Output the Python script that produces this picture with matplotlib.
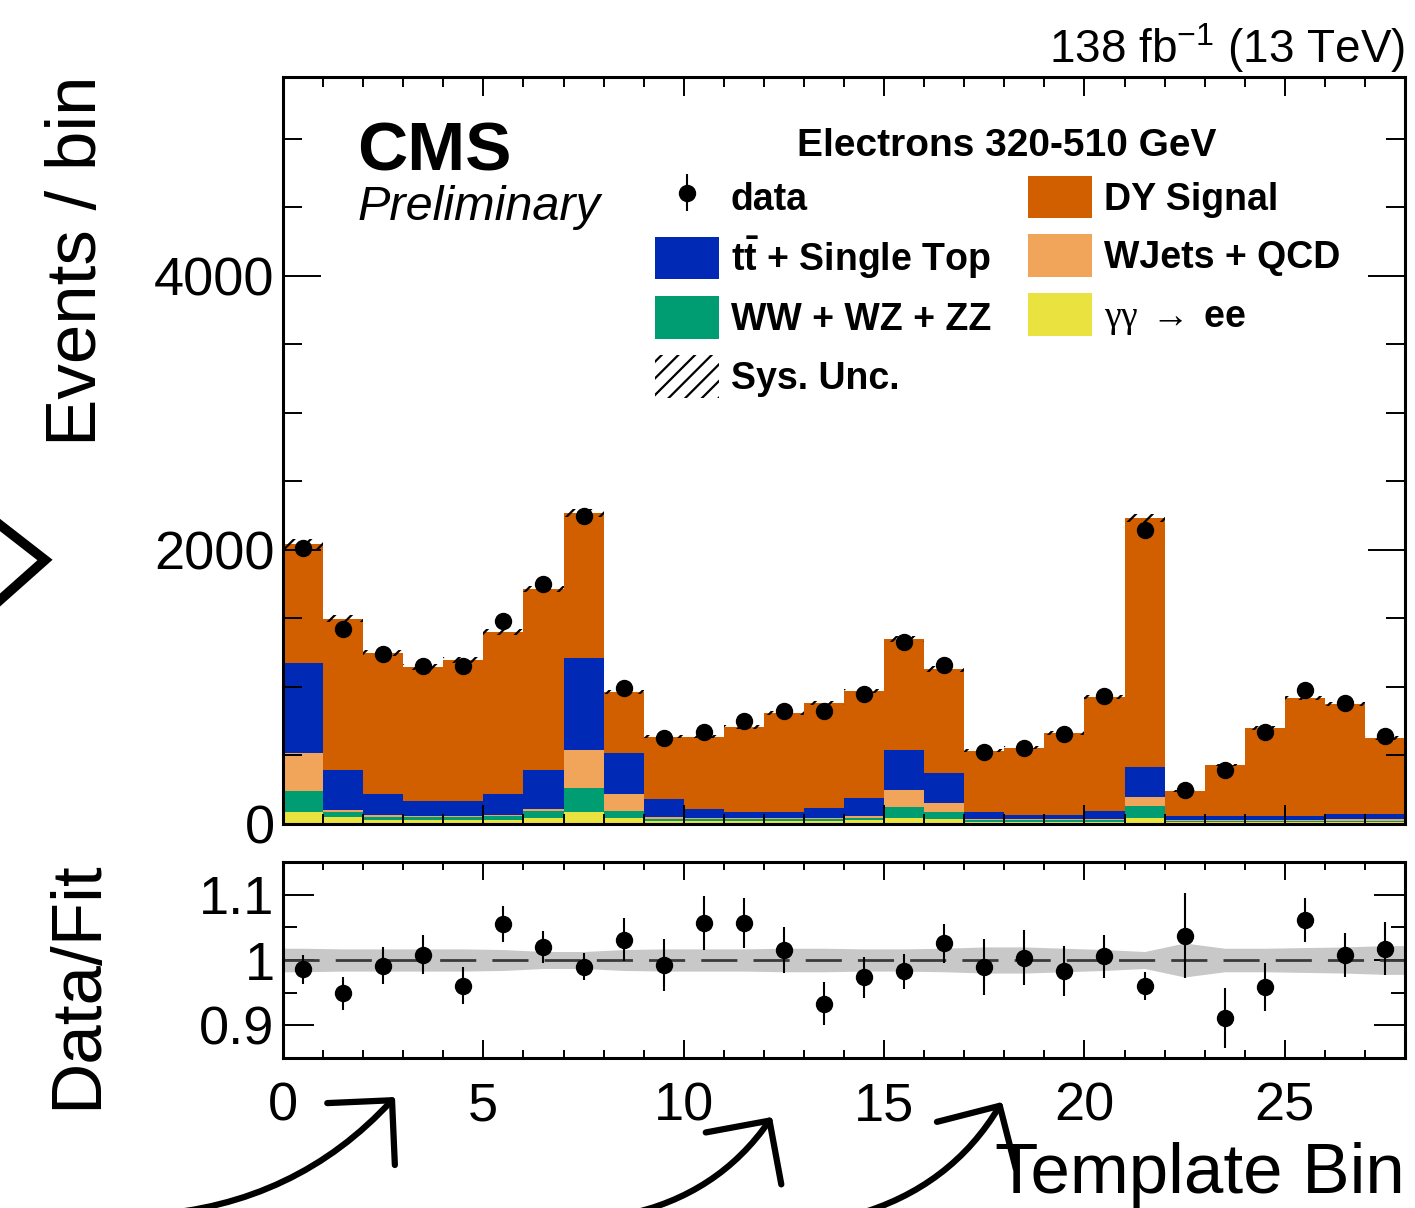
import matplotlib
matplotlib.use("Agg")
import matplotlib.pyplot as plt
import numpy as np
from matplotlib.lines import Line2D
from matplotlib.patches import Patch
from matplotlib.ticker import FuncFormatter, MultipleLocator

plt.rcParams.update({
    "font.family": ["Liberation Sans", "DejaVu Sans"],
    "mathtext.fontset": "custom",
    "mathtext.rm": "Liberation Serif",
    "mathtext.it": "Liberation Serif:italic",
    "mathtext.bf": "Liberation Sans:bold",
    "mathtext.sf": "Liberation Sans",
    "hatch.linewidth": 1.6,
})

# fitted yields per template bin (electrons, 320-510 GeV)
gamgam_ee = [88, 50, 32, 30, 30, 32, 45, 88, 44, 25, 22, 22, 22, 22,
             26, 44, 40, 18, 16, 16, 18, 44, 14, 14, 14, 14, 15, 15]
diboson = [150, 40, 22, 20, 20, 25, 50, 177, 54, 15, 14, 12, 12, 14,
           20, 80, 48, 12, 10, 10, 12, 84, 8, 8, 9, 10, 10, 10]
wjets_qcd = [280, 15, 15, 11, 11, 11, 12, 275, 122, 12, 10, 10, 10, 10,
             12, 126, 67, 10, 10, 10, 10, 69, 8, 8, 8, 8, 9, 9]
ttbar_top = [660, 292, 151, 108, 108, 152, 290, 672, 298, 127, 64, 46, 41, 71,
             132, 290, 220, 48, 33, 33, 55, 219, 25, 25, 26, 30, 36, 38]
dy_signal = [867, 1099, 1028, 977, 1028, 1181, 1318, 1058, 445, 456, 525, 618, 725, 766,
             781, 810, 756, 445, 486, 595, 832, 1818, 186, 376, 644, 858, 806, 556]
data_counts = [2016, 1420, 1237, 1155, 1150, 1478, 1749, 2247, 993, 630, 671, 748, 822, 824,
               945, 1327, 1160, 527, 557, 653, 932, 2145, 250, 393, 672, 976, 883, 639]
# relative systematic uncertainty of the fit
sys_rel = [0.018, 0.017, 0.017, 0.017, 0.017, 0.016, 0.013, 0.013, 0.016, 0.017,
           0.017, 0.017, 0.018, 0.018, 0.017, 0.017, 0.018, 0.020, 0.020, 0.018,
           0.016, 0.013, 0.026, 0.018, 0.018, 0.019, 0.020, 0.022]

components = [
    (gamgam_ee, "#e9e23f", r"$\mathrm{\gamma\gamma}\ \rightarrow\ \mathbf{ee}$"),
    (diboson, "#009d72", "WW + WZ + ZZ"),
    (wjets_qcd, "#f0a55a", "WJets + QCD"),
    (ttbar_top, "#0029b5", r"$\mathbf{t\bar{t}}$ + Single Top"),
    (dy_signal, "#d15f00", "DY Signal"),
]

edges = np.arange(len(dy_signal) + 1)
centers = edges[:-1] + 0.5
data = np.array(data_counts, dtype=float)
data_err = np.sqrt(data)
sys_rel = np.array(sys_rel)

W, H = 1415, 1208
fig = plt.figure(figsize=(W / 100, H / 100), dpi=100)
ax = fig.add_axes([283 / W, 1 - 824 / H, 1122 / W, 747 / H])
ax_r = fig.add_axes([283 / W, 1 - 1058 / H, 1122 / W, 196 / H])

# stacked fit templates
bottom = np.zeros(len(dy_signal))
handles = {}
for vals, color, label in components:
    top_ = bottom + np.array(vals)
    ax.stairs(top_, edges, baseline=bottom, fill=True, color=color, lw=0)
    handles[label] = Patch(facecolor=color, edgecolor="none")
    bottom = top_
total = bottom

# systematic band on total
lo = np.append(total * (1 - sys_rel), total[-1] * (1 - sys_rel[-1]))
hi = np.append(total * (1 + sys_rel), total[-1] * (1 + sys_rel[-1]))
ax.fill_between(edges, lo, hi, step="post", facecolor="none", edgecolor="black",
                lw=0, hatch="//")

eb = ax.errorbar(centers, data, yerr=data_err, fmt="o", color="black", ms=11.5,
                 elinewidth=1.5, capsize=0, zorder=5)

ax.set_xlim(0, 28)
ax.set_ylim(0, 5450)
ax.yaxis.set_major_locator(MultipleLocator(2000))
ax.yaxis.set_minor_locator(MultipleLocator(500))
ax.xaxis.set_major_locator(MultipleLocator(5))
ax.xaxis.set_minor_locator(MultipleLocator(1))
ax.tick_params(which="both", direction="in", top=True, right=True, width=1.4,
               labelsize=39, pad=6)
ax.tick_params(axis="y", which="major", length=27)
ax.tick_params(axis="y", which="minor", length=13.5)
ax.tick_params(axis="x", which="major", length=14, labelbottom=False)
ax.tick_params(axis="x", which="minor", length=7)
for s in ax.spines.values():
    s.set_linewidth(2.2)

ax.text(0.066, 0.8755, "CMS", transform=ax.transAxes, fontsize=50,
        fontweight="bold", va="baseline")
ax.text(0.066, 0.8086, "Preliminary", transform=ax.transAxes, fontsize=35,
        style="italic", va="baseline")
ax.text(0.645, 0.908, "Electrons 320-510 GeV", transform=ax.transAxes, fontsize=28,
        fontweight="bold", ha="center", va="center")

sys_handle = Patch(facecolor="none", edgecolor="black", lw=0, hatch="//")
labels = ["data", components[3][2], components[1][2], "Sys. Unc.",
          components[4][2], components[2][2], components[0][2]]
hlist = [eb, handles[labels[1]], handles[labels[2]], sys_handle,
         handles[labels[4]], handles[labels[5]], handles[labels[6]]]
ax.legend(hlist, labels, ncol=2, loc="upper left", bbox_to_anchor=(0.3316, 0.868),
          frameon=False, prop={"weight": "bold", "size": 27},
          handlelength=1.7, handleheight=1.38, handletextpad=0.32,
          columnspacing=0.99, labelspacing=0.42, borderpad=0, borderaxespad=0)

# ratio panel
ratio = data / total
ratio_err = data_err / total
xb = np.concatenate([[edges[0]], centers, [edges[-1]]])
sb = np.concatenate([[sys_rel[0]], sys_rel, [sys_rel[-1]]])
ax_r.fill_between(xb, 1 - sb, 1 + sb, color="#c8c8c8", lw=0)
ax_r.axhline(1, color="#3a3a3a", lw=2, dashes=(13, 5.8))
ax_r.errorbar(centers, ratio, yerr=ratio_err, fmt="o", color="black", ms=11.5,
              elinewidth=1.5, capsize=0, zorder=5)
ax_r.set_xlim(0, 28)
ax_r.set_ylim(0.85, 1.15)
ax_r.yaxis.set_major_locator(MultipleLocator(0.1))
ax_r.yaxis.set_minor_locator(MultipleLocator(0.05))
ax_r.yaxis.set_major_formatter(FuncFormatter(lambda v, p: f"{v:g}"))
ax_r.xaxis.set_major_locator(MultipleLocator(5))
ax_r.xaxis.set_minor_locator(MultipleLocator(1))
ax_r.tick_params(which="both", direction="in", top=True, right=True, width=1.4,
                 labelsize=39)
ax_r.tick_params(axis="y", which="major", length=22, pad=6)
ax_r.tick_params(axis="y", which="minor", length=10)
ax_r.tick_params(axis="x", which="major", length=13, pad=17)
ax_r.tick_params(axis="x", which="minor", length=6)
for s in ax_r.spines.values():
    s.set_linewidth(2.2)

fig.text(1405 / W, 1 - 63 / H, r"138 fb$\mathregular{^{-1}}$ (13 TeV)", fontsize=33,
         ha="right", va="baseline")
fig.text(78 / W, 1 - 75 / H, "Events / bin", fontsize=51, rotation=90,
         ha="center", va="top")
fig.text(78 / W, 1 - 860 / H, "Data/Fit", fontsize=51, rotation=90,
         ha="center", va="top")
fig.text(1405 / W, 15 / H, "Template Bin", fontsize=51, ha="right", va="baseline")

# hand-drawn style pointers
for tail, tip in [((150, -7), (395, 111)), ((625, -7), (772, 91)), ((855, -7), (1002, 106))]:
    ax_r.annotate("", xy=tip, xytext=tail, xycoords="figure pixels",
                  textcoords="figure pixels", annotation_clip=False,
                  arrowprops=dict(arrowstyle="->,head_length=3.3,head_width=3.3",
                                  mutation_scale=10, lw=4.5, color="black",
                                  connectionstyle="arc3,rad=0.2",
                                  shrinkA=0, shrinkB=0))
fig.add_artist(Line2D(np.array([0, 45, 0]) / W, 1 - np.array([525, 560, 600]) / H,
                      transform=fig.transFigure, color="black", lw=7,
                      solid_joinstyle="miter"))

fig.savefig("out.png", dpi=100)
